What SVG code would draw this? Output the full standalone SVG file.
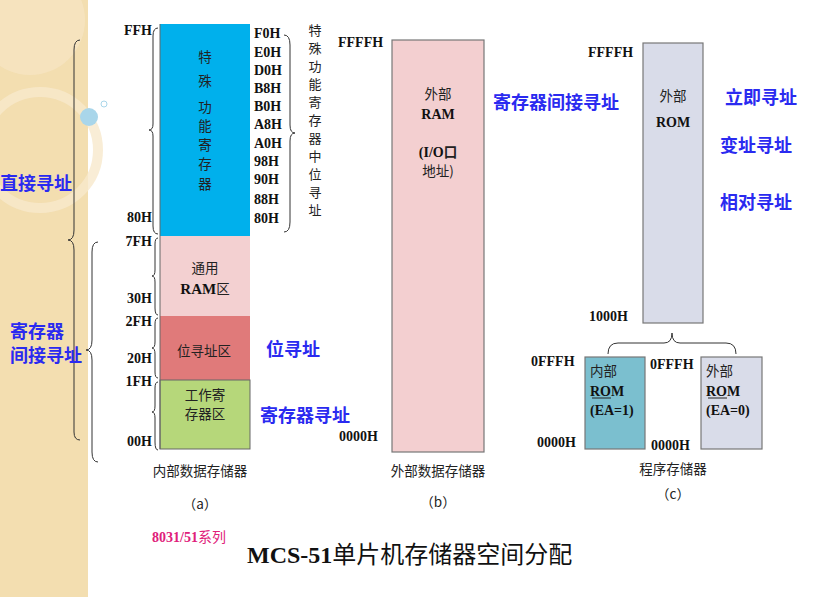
<svg xmlns="http://www.w3.org/2000/svg" width="821" height="597" viewBox="0 0 821 597">
<style>
.l{font-family:"Liberation Serif",serif;font-weight:bold;font-size:14px;fill:#111}
.c{font-family:"Noto Sans CJK SC",sans-serif;font-size:13.5px;fill:#222}
.b{font-family:"Noto Sans CJK SC",sans-serif;font-size:18px;fill:#2a2af0;font-weight:bold}
.br{fill:none;stroke:#333;stroke-width:1}
.bx{stroke:#777;stroke-width:1.2}
</style>
<rect width="821" height="597" fill="#fff"/>
<g id="bg">
<rect width="88" height="597" fill="#f3deb0"/>
<circle cx="40" cy="150" r="58" fill="none" stroke="#f8e9cc" stroke-width="10" opacity="0.8"/>
<circle cx="30" cy="20" r="55" fill="#f6e6c4" opacity="0.7"/>
<circle cx="89" cy="117" r="9" fill="#a9d6ea"/>
<circle cx="104" cy="104" r="3" fill="none" stroke="#a9d6ea"/>
</g>
<g id="connectors">
<path class="br" d="M80 40 Q74 40 74 50 L74 230 Q74 240 68 240 Q74 240 74 250 L74 432 Q74 440 80 440"/>
<path class="br" d="M98 242 Q92 242 92 252 L92 340 Q92 350 86 350 Q92 350 92 360 L92 452 Q92 462 98 462"/>
<path class="br" d="M158 28 Q153 28 153 36 L153 124 Q153 130 149 130 Q153 130 153 136 L153 226 Q153 234 158 234"/>
<path class="br" d="M158 238 Q155 238 155 244 L155 270 Q155 276 152 276 Q155 276 155 282 L155 308 Q155 315 158 315"/>
<path class="br" d="M158 318 Q155 318 155 324 L155 342 Q155 348 152 348 Q155 348 155 354 L155 372 Q155 378 158 378"/>
<path class="br" d="M158 382 Q155 382 155 388 L155 406 Q155 412 152 412 Q155 412 155 418 L155 442 Q155 450 158 450"/>
<path class="br" d="M284 35 Q290 35 290 45 L290 125 Q290 133 295 133 Q290 133 290 141 L290 222 Q290 232 284 232"/>
<path class="br" d="M608 354 Q608 343 618 343 L664 343 Q672 343 672 333 Q672 343 680 343 L726 343 Q736 343 736 354"/>
</g>
<g id="sfr"><rect x="160" y="24" width="90" height="212" fill="#00b0ec"/>
<text class="c" text-anchor="middle" x="205"><tspan x="205" y="62">特</tspan><tspan x="205" y="86">殊</tspan><tspan x="205" y="112">功</tspan><tspan x="205" y="131">能</tspan><tspan x="205" y="150">寄</tspan><tspan x="205" y="169">存</tspan><tspan x="205" y="189">器</tspan></text></g>
<g id="ram"><rect x="160" y="236" width="90" height="80" fill="#f3d0d1"/>
<text class="c" x="205" y="273" text-anchor="middle">通用</text><text class="c" x="205" y="294" text-anchor="middle"><tspan class="l" style="font-size:15px">RAM</tspan>区</text></g>
<g id="bit"><rect x="160" y="316" width="90" height="64" fill="#e07a7a"/>
<text class="c" x="204" y="356" text-anchor="middle">位寻址区</text></g>
<g id="work"><rect x="160" y="380" width="90" height="69" fill="#b6d77a" stroke="#666"/>
<text class="c" x="205" y="400" text-anchor="middle">工作寄</text><text class="c" x="205" y="419" text-anchor="middle">存器区</text></g>
<line x1="160" y1="24" x2="160" y2="449" stroke="#666"/>
<g id="labelsA" class="l" text-anchor="end">
<text x="152" y="35">FFH</text><text x="152" y="222">80H</text><text x="152" y="246">7FH</text><text x="152" y="303">30H</text><text x="152" y="326">2FH</text><text x="152" y="363">20H</text><text x="152" y="386">1FH</text><text x="152" y="446">00H</text>
</g>
<g id="sfraddr" class="l">
<text x="254" y="38">F0H</text><text x="254" y="57">E0H</text><text x="254" y="75">D0H</text><text x="254" y="93">B8H</text><text x="254" y="111">B0H</text><text x="254" y="129">A8H</text><text x="254" y="148">A0H</text><text x="254" y="166">98H</text><text x="254" y="184">90H</text><text x="254" y="204">88H</text><text x="254" y="223">80H</text>
</g>
<text class="c" x="315" style="font-size:13px" text-anchor="middle"><tspan x="315" y="35">特</tspan><tspan x="315" y="53">殊</tspan><tspan x="315" y="71">功</tspan><tspan x="315" y="89">能</tspan><tspan x="315" y="107">寄</tspan><tspan x="315" y="125">存</tspan><tspan x="315" y="143">器</tspan><tspan x="315" y="161">中</tspan><tspan x="315" y="179">位</tspan><tspan x="315" y="197">寻</tspan><tspan x="315" y="215">址</tspan></text>
<text class="c" x="200" y="476" text-anchor="middle">内部数据存储器</text>
<text class="c" x="200" y="509" text-anchor="middle">（a）</text>
<g id="extram"><rect class="bx" x="392" y="40" width="92" height="412" fill="#f3cfd0"/>
<text class="c" x="438" y="99" text-anchor="middle">外部</text><text class="l" x="438" y="119" text-anchor="middle">RAM</text>
<text class="l" x="438" y="157" text-anchor="middle">(I/O<tspan class="c">口</tspan></text><text class="c" x="438" y="176" text-anchor="middle">地址)</text></g>
<text class="l" x="338" y="47">FFFFH</text><text class="l" x="339" y="441">0000H</text>
<text class="c" x="438" y="476" text-anchor="middle">外部数据存储器</text>
<text class="c" x="438" y="507" text-anchor="middle">（b）</text>
<g id="rom"><rect class="bx" x="643" y="43" width="60" height="280" fill="#d9dce9"/>
<text class="c" x="673" y="101" text-anchor="middle">外部</text><text class="l" x="673" y="127" text-anchor="middle">ROM</text></g>
<text class="l" x="588" y="57">FFFFH</text><text class="l" x="589" y="321">1000H</text>
<g id="introm"><rect class="bx" x="585" y="357" width="60" height="92" fill="#7bbfcf"/>
<text class="c" x="590" y="376">内部</text><text class="l" x="590" y="396">ROM</text><text class="l" x="590" y="415">(EA=1)</text>
<line x1="592" y1="398" x2="611" y2="398" stroke="#222"/></g>
<g id="extrom"><rect class="bx" x="701" y="357" width="61" height="92" fill="#d9dce9"/>
<text class="c" x="706" y="376">外部</text><text class="l" x="706" y="396">ROM</text><text class="l" x="706" y="415">(EA=0)</text>
<line x1="708" y1="398" x2="727" y2="398" stroke="#222"/></g>
<text class="l" x="531" y="366">0FFFH</text><text class="l" x="537" y="447">0000H</text>
<text class="l" x="650" y="369">0FFFH</text><text class="l" x="651" y="450">0000H</text>
<text class="c" x="673" y="474" text-anchor="middle">程序存储器</text>
<text class="c" x="673" y="499" text-anchor="middle">（c）</text>
<g id="modes">
<text class="b" x="0" y="190">直接寻址</text>
<text class="b" x="10" y="338">寄存器</text><text class="b" x="10" y="362">间接寻址</text>
<text class="b" x="266" y="356">位寻址</text><text class="b" x="260" y="422">寄存器寻址</text>
<text class="b" x="493" y="109">寄存器间接寻址</text>
<text class="b" x="725" y="104">立即寻址</text><text class="b" x="720" y="152">变址寻址</text><text class="b" x="720" y="209">相对寻址</text>
</g>
<text x="152" y="542" style="font-family:'Liberation Serif','Noto Sans CJK SC',serif;font-weight:bold;font-size:14px;fill:#e0207a">8031/51<tspan style="font-family:'Noto Sans CJK SC',sans-serif;font-weight:normal">系列</tspan></text>
<text x="247" y="563" style="font-family:'Liberation Serif','Noto Sans CJK SC',serif;font-weight:bold;font-size:24px;fill:#111">MCS-51<tspan style="font-family:'Noto Sans CJK SC',serif;font-weight:normal">单片机存储器空间分配</tspan></text>
</svg>
